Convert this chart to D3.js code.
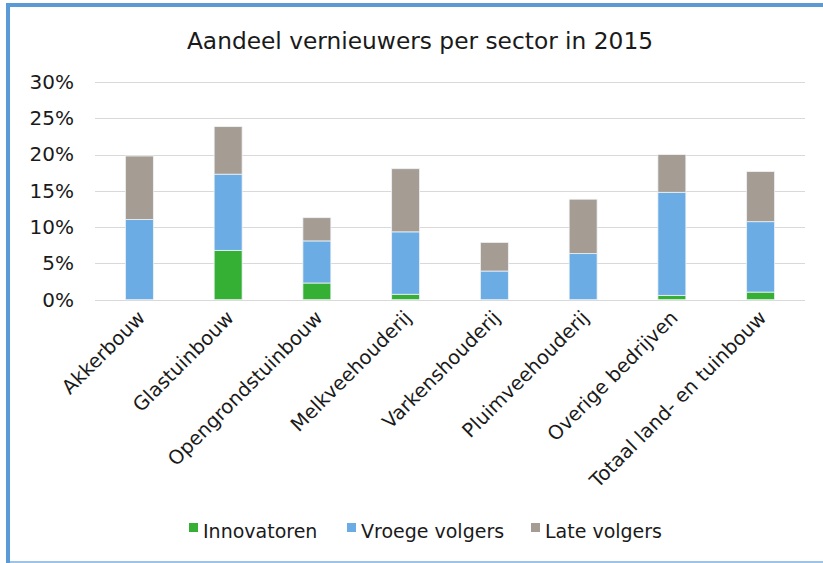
<!DOCTYPE html>
<html><head><meta charset="utf-8">
<script src="https://cdn.jsdelivr.net/npm/d3@7"></script>
<style>body{margin:0;background:#fff}svg{display:block}</style>
</head><body>
<svg id="c" width="823" height="563"></svg>
<script>
const categories = ["Akkerbouw","Glastuinbouw","Opengrondstuinbouw","Melkveehouderij","Varkenshouderij","Pluimveehouderij","Overige bedrijven","Totaal land- en tuinbouw"];
const innovatoren   = [0.0, 6.8, 2.3, 0.75, 0.0, 0.0, 0.6, 1.05];
const vroegeVolgers = [11.05, 10.5, 5.8, 8.6, 3.95, 6.35, 14.2, 9.7];
const lateVolgers   = [8.75, 6.55, 3.2, 8.7, 3.95, 7.5, 5.2, 6.9];
const seriesNames = ["Innovatoren","Vroege volgers","Late volgers"];
const seriesColors = ["#35b035","#6aace3","#a59c94"];
const yTicks = [0,5,10,15,20,25,30];
const title = "Aandeel vernieuwers per sector in 2015";

const svg = d3.select("#c");
const font = "DejaVu Sans, Verdana, sans-serif";

// frame
svg.append("rect").attr("x",6).attr("y",3).attr("width",4).attr("height",560).attr("fill","#5b9bd5");
svg.append("rect").attr("x",6).attr("y",3).attr("width",817).attr("height",4).attr("fill","#5b9bd5");
svg.append("rect").attr("x",10).attr("y",561).attr("width",813).attr("height",2).attr("fill","#9dc3e6");

const x = d3.scaleBand().domain(categories).range([95,805]).paddingInner(0.685).paddingOuter(0.3425);
const y = d3.scaleLinear().domain([0,30]).range([299.7,82]);

// gridlines
svg.append("g").selectAll("line").data(yTicks).join("line")
  .attr("x1",95).attr("x2",805).attr("y1",d=>Math.round(y(d))+0.5).attr("y2",d=>Math.round(y(d))+0.5)
  .attr("stroke","#d9d9d9").attr("stroke-width",1.2);

// y axis labels
const yAxis = d3.axisLeft(y).tickValues(yTicks).tickFormat(d=>d+"%").tickSize(0).tickPadding(0);
const ga = svg.append("g").attr("transform","translate(74,0)").call(yAxis);
ga.select(".domain").remove();
ga.selectAll("text").attr("font-family",font).attr("font-size",20).attr("fill","#1a1a1a");

// stacked data
const rows = categories.map((c,i)=>({cat:c, "Innovatoren":innovatoren[i], "Vroege volgers":vroegeVolgers[i], "Late volgers":lateVolgers[i]}));
const stack = d3.stack().keys(seriesNames)(rows);
const color = d3.scaleOrdinal().domain(seriesNames).range(seriesColors);

svg.append("g").selectAll("g").data(stack).join("g").attr("fill",d=>color(d.key))
  .selectAll("rect").data(d=>d.filter(p=>p[1]-p[0]>0)).join("rect")
  .attr("x",d=>x(d.data.cat)).attr("width",x.bandwidth())
  .attr("y",d=>y(d[1])).attr("height",d=>y(d[0])-y(d[1]))
  .attr("stroke","#eef2f6").attr("stroke-width",0.8);

// category labels
const xAxis = d3.axisBottom(x).tickSize(0).tickPadding(0);
const gx = svg.append("g").attr("transform","translate(0,306)").call(xAxis);
gx.select(".domain").remove();
gx.selectAll("text").attr("font-family",font).attr("font-size",19.5).attr("fill","#1a1a1a")
  .attr("text-anchor","end").attr("dy",null).attr("y",0)
  .attr("transform","translate(7,13) rotate(-45)");

// title
svg.append("text").attr("x",420).attr("y",49).attr("text-anchor","middle")
  .attr("font-family",font).attr("font-size",23.3).attr("fill","#1a1a1a").text(title);

// legend
const legX = [189,347,531];
const lg = svg.append("g").selectAll("g").data(seriesNames).join("g")
  .attr("transform",(d,i)=>`translate(${legX[i]},0)`);
lg.append("rect").attr("x",0).attr("y",523).attr("width",9).attr("height",9).attr("fill",d=>color(d));
lg.append("text").attr("x",14).attr("y",538).attr("font-family",font).attr("font-size",19)
  .attr("fill","#1a1a1a").text(d=>d);
</script>
</body></html>
